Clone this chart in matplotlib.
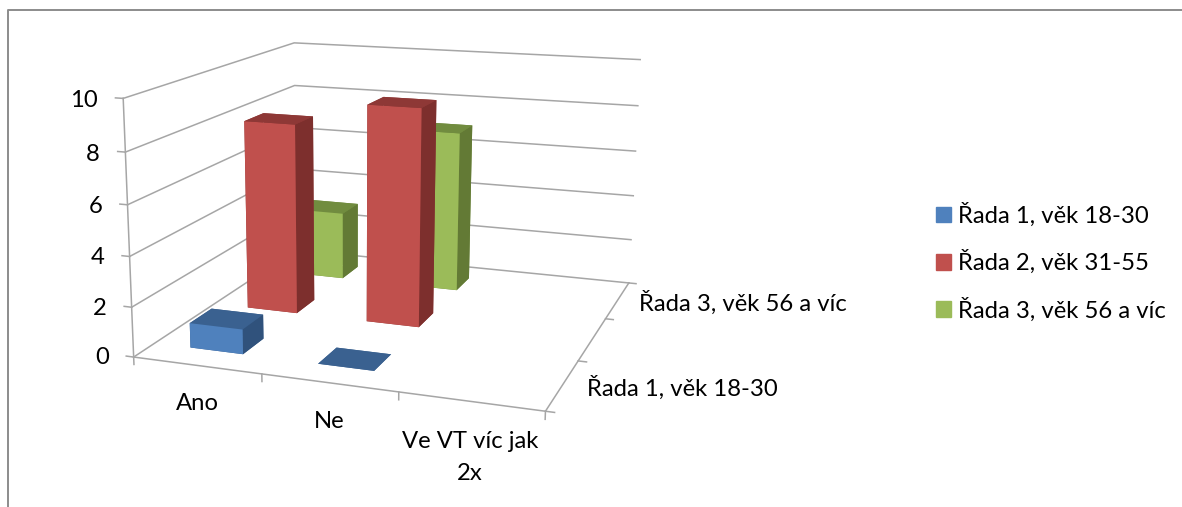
# plot.py - 3D bar chart, projection fitted to the picture's box corners

import numpy as np
import matplotlib
matplotlib.use('Agg')
import matplotlib.pyplot as plt
from matplotlib.lines import Line2D
from matplotlib.patches import Patch
from matplotlib.text import Text
from mpl_toolkits.mplot3d import Axes3D, proj3d  # noqa

W, H = 1182, 507

categories = ['Ano', 'Ne', 'Ve VT víc jak\n2x']
series_names = ['Řada 1, věk 18-30', 'Řada 2, věk 31-55', 'Řada 3, věk 56 a víc']
row_labels = ['Řada 1, věk 18-30', 'Řada 3, věk 56 a víc']
row_label_pos = [0, 2]
z_ticks = [0, 2, 4, 6, 8, 10]

# None = empty cell, nothing drawn
values_18_30 = [1, 0, None]
values_31_55 = [8, 9, None]
values_56 = [3, 7, None]

# bottom, top, front, back, left, right
colors_18_30 = ['#3A6190', '#3A6190', '#4F81BD', '#3A6190', '#3A6190', '#30527C']
colors_31_55 = ['#8E3836', '#8E3836', '#C0504D', '#8E3836', '#8E3836', '#7D2F2D']
colors_56 = ['#718C3F', '#718C3F', '#9BBB59', '#718C3F', '#718C3F', '#637A35']

# box points (world) and where they sit in the image (pixels from top left)
world_pts = [(0, 0, 0), (0, 0, 10), (0, 3, 0), (0, 3, 10), (3, 3, 0), (3, 3, 10), (3, 0, 0),
             (1, 0, 0), (2, 0, 0), (3, 1, 0), (3, 2, 0), (3, 3, 4)]
image_pts = [(135, 357), (122.5, 98), (295, 250), (295, 42.7), (628.5, 283), (640, 60), (543.5, 411.5),
             (262, 374), (398, 393), (580, 360), (606.7, 318), (633, 196)]

LINE = '#A6A6A6'
plt.rcParams['font.family'] = ['Lato', 'DejaVu Sans']
plt.rcParams['font.size'] = 17.2

fig = plt.figure(figsize=(W / 100, H / 100), dpi=100)
# square axes as wide as the figure, so nothing gets clipped
ax = fig.add_axes([0, 0.5 - W / H / 2, 1, W / H], projection='3d', computed_zorder=False)
ax.patch.set_visible(False)


def fit_proj():
    """Solve the 3x4 camera matrix from the point pairs, return it as a 4x4."""
    pix = np.array([(x, H - y) for x, y in image_pts], dtype=float)
    pts = ax.transData.inverted().transform(pix)
    rows, rhs = [], []
    for (X, Y, Z), (u, v) in zip(world_pts, pts):
        rows.append([X, Y, Z, 1, 0, 0, 0, 0, -u * X, -u * Y, -u * Z])
        rhs.append(u)
        rows.append([0, 0, 0, 0, X, Y, Z, 1, -v * X, -v * Y, -v * Z])
        rhs.append(v)
    p = np.linalg.lstsq(np.array(rows), np.array(rhs), rcond=None)[0]
    # larger third row value = further from the viewer
    return np.array([[p[0], p[1], p[2], p[3]],
                     [p[4], p[5], p[6], p[7]],
                     [-0.2, 0.33, -0.03, 0.5],
                     [p[8], p[9], p[10], 1.0]])


def label(x, y, z, s, **kw):
    """Plain 2D text at the projected spot of a world point."""
    u, v, _ = proj3d.proj_transform(x, y, z, fit_proj())
    ax.text2D(u, v, s, transform=ax.transData, color='black', **kw)


ax.get_proj = fit_proj
ax.set_proj_type('ortho')

ax.set_xlim(0, 3, view_margin=0)
ax.set_ylim(0, 3, view_margin=0)
ax.set_zlim(0, 10, view_margin=0)
ax.set_axis_off()

# box edges, gridlines on both walls, ticks
line_kw = dict(color=LINE, lw=1.1, zorder=1)
ax.plot([0, 3, 3], [0, 0, 3], [0, 0, 0], **line_kw)
ax.plot([0, 0], [0, 0], [0, 10], **line_kw)
for z in z_ticks:
    ax.plot([0, 0, 3], [0, 3, 3], [z, z, z], **line_kw)
    ax.plot([-0.06, 0], [0, 0], [z, z], **line_kw)
for x in [0, 1, 2, 3]:
    ax.plot([x, x], [0, 0], [0, -0.3], **line_kw)
for y in [0, 1, 2, 3]:
    ax.plot([3, 3.06], [y, y], [0, 0], **line_kw)

bar_x = 0.29
bar_y = 0.32
bar_w = 0.42
bar_d = 0.36
all_values = [values_18_30, values_31_55, values_56]
all_colors = [colors_18_30, colors_31_55, colors_56]
for row, (vals, cols) in enumerate(zip(all_values, all_colors)):
    for c, v in enumerate(vals):
        if v is None:
            continue
        ax.bar3d(c + bar_x, row + bar_y, 0, bar_w, bar_d, v,
                 color=cols, shade=False, linewidth=0, zorder=10 - row)

# text labels placed from world coordinates
for z in z_ticks:
    label(-0.2, 0, z - 0.08, str(z), ha='right', va='center_baseline')
for c, name in enumerate(categories):
    label(c + 0.5, 0, -1.1, name, ha='center', va='top', linespacing=1.66)
for pos, name in zip(row_label_pos, row_labels):
    label(3.17, pos + 0.5, 0, name, ha='left', va='center')

handles = [Patch(color=c[2]) for c in all_colors]
fig.legend(handles, series_names, loc='center left', bbox_to_anchor=(936 / W, 0.483), frameon=False,
           fontsize=17.2, handlelength=0.63, handleheight=0.63, handletextpad=0.29, labelspacing=0.975,
           borderpad=0, borderaxespad=0)

# outer chart frame, only left and top show in the crop
fig.add_artist(Line2D([8 / W, 8 / W, 1], [0, 1 - 10 / H, 1 - 10 / H], color='#8C8C8C', lw=1.4))

# the axes keep empty title and label texts around, hide those
for t in fig.findobj(Text):
    if not t.get_text():
        t.set_visible(False)

fig.savefig('out.png', dpi=100)
